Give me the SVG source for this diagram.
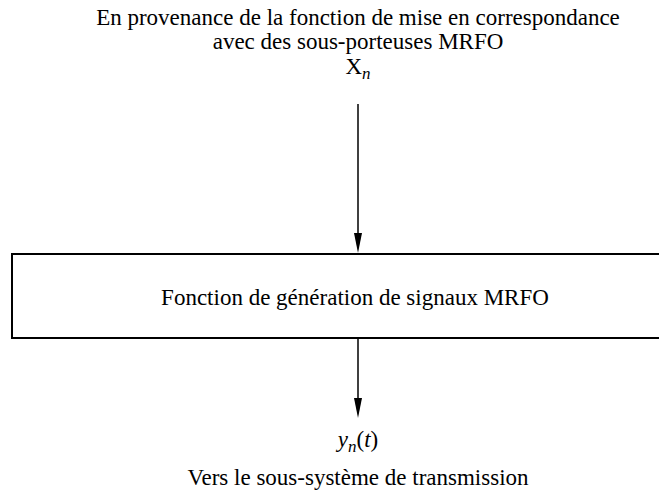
<svg xmlns="http://www.w3.org/2000/svg" width="659" height="496" viewBox="0 0 659 496">
<style>
text{font-family:"Liberation Serif","Times New Roman",serif;font-size:23px;fill:#000;text-anchor:middle}
.sub{font-style:italic;font-size:17px}
.it{font-style:italic}
.ln{stroke:#000;stroke-width:1.5;fill:none}
.box{stroke:#000;stroke-width:2;fill:#fff}
.head{fill:#000}
</style>
<rect width="659" height="496" fill="#fff"/>
<g id="labels-top">
<text x="358" y="25">En provenance de la fonction de mise en correspondance</text>
<text x="358" y="49">avec des sous-porteuses MRFO</text>
<text x="358" y="74">X<tspan class="sub" dy="5">n</tspan></text>
</g>
<g id="node-generation">
<rect class="box" x="12" y="254" width="660" height="84"/>
<text x="355" y="305">Fonction de génération de signaux MRFO</text>
</g>
<g id="labels-bottom">
<text x="358" y="447"><tspan class="it">y</tspan><tspan class="sub" dy="5">n</tspan><tspan dy="-5">(</tspan><tspan class="it">t</tspan>)</text>
<text x="358" y="485">Vers le sous-système de transmission</text>
</g>
<g id="connectors">
<line class="ln" x1="358" y1="104" x2="358" y2="234"/>
<path class="head" d="M354,233 L362,233 L358,253 Z"/>
<line class="ln" x1="358" y1="339" x2="358" y2="399"/>
<path class="head" d="M354,398 L362,398 L358,418 Z"/>
</g>
</svg>
